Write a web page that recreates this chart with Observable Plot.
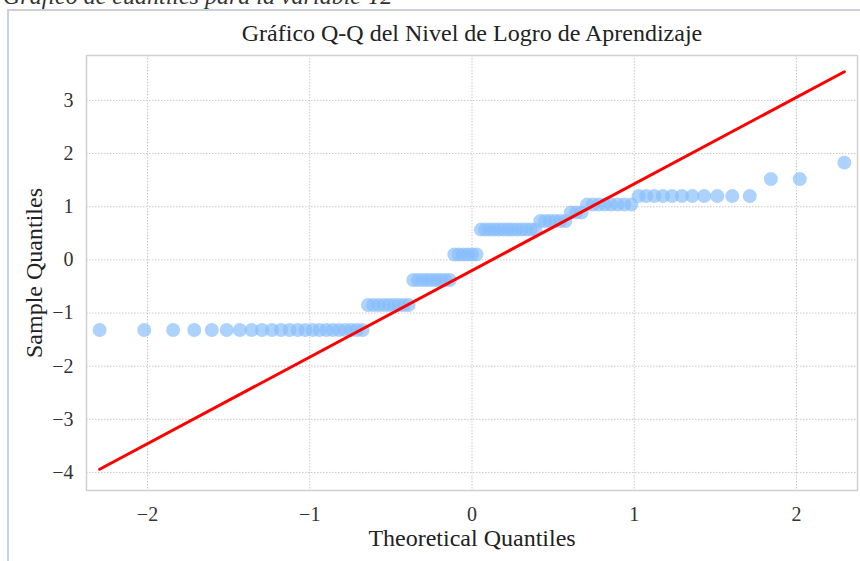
<!DOCTYPE html>
<html>
<head>
<meta charset="utf-8">
<script src="https://cdn.jsdelivr.net/npm/d3@7"></script>
<script src="https://cdn.jsdelivr.net/npm/@observablehq/plot@0.6"></script>
<style>
  html, body { margin: 0; padding: 0; background: #fff; width: 860px; height: 561px; overflow: hidden; }
  #wrap { position: relative; width: 860px; height: 561px; overflow: hidden; }
  #caption { position: absolute; left: 3px; top: -16px; font-family: "Liberation Serif", serif; font-style: italic; font-size: 24px; line-height: 24px; color: #333; white-space: nowrap; }
  #frame { position: absolute; left: 7px; top: 9px; width: 900px; height: 600px; border: 2px solid #c9d1df; box-sizing: border-box; }
  #chart { position: absolute; left: 0; top: 0; }
</style>
</head>
<body>
<div id="wrap">
  <div id="caption">Gráfico de cuantiles para la variable Y2</div>
  <div id="frame"></div>
  <div id="chart"></div>
</div>
<script>
const theoretical = [
  -2.295, -2.020, -1.842, -1.712, -1.604, -1.512, -1.431, -1.358, -1.294, -1.233,
  -1.177, -1.124, -1.074, -1.027, -0.982, -0.939, -0.897, -0.857, -0.819, -0.781,
  -0.744, -0.709, -0.675, -0.641, -0.608, -0.575, -0.543, -0.512, -0.481, -0.451,
  -0.421, -0.391, -0.362, -0.333, -0.304, -0.276, -0.248, -0.220, -0.192, -0.164,
  -0.137, -0.109, -0.082, -0.055, -0.027, 0.000,
  0.027, 0.055, 0.082, 0.109, 0.137, 0.164, 0.192, 0.220, 0.248, 0.276,
  0.304, 0.333, 0.362, 0.391, 0.421, 0.451, 0.481, 0.512, 0.543, 0.575,
  0.608, 0.641, 0.675, 0.709, 0.744, 0.781, 0.819, 0.857, 0.897, 0.939,
  0.982, 1.027, 1.074, 1.124, 1.177, 1.233, 1.294, 1.358, 1.431, 1.512,
  1.604, 1.712, 1.842, 2.020, 2.295
];
const sample = [
  -1.32, -1.32, -1.32, -1.32, -1.32, -1.32, -1.32, -1.32, -1.32, -1.32,
  -1.32, -1.32, -1.32, -1.32, -1.32, -1.32, -1.32, -1.32, -1.32, -1.32,
  -1.32, -1.32, -1.32,
  -0.85, -0.85, -0.85, -0.85, -0.85, -0.85, -0.85, -0.85, -0.85,
  -0.38, -0.38, -0.38, -0.38, -0.38, -0.38, -0.38, -0.38, -0.38,
  0.10, 0.10, 0.10, 0.10, 0.10, 0.10,
  0.57, 0.57, 0.57, 0.57, 0.57, 0.57, 0.57, 0.57, 0.57, 0.57, 0.57, 0.57, 0.57,
  0.73, 0.73, 0.73, 0.73, 0.73, 0.73,
  0.89, 0.89, 0.89,
  1.04, 1.04, 1.04, 1.04, 1.04, 1.04, 1.04, 1.04,
  1.20, 1.20, 1.20, 1.20, 1.20, 1.20, 1.20, 1.20, 1.20, 1.20, 1.20,
  1.52, 1.52,
  1.83
];
const lineX = [-2.295, 2.295];
const lineY = [-3.94, 3.54];
const xTicks = [-2, -1, 0, 1, 2];
const yTicks = [-4, -3, -2, -1, 0, 1, 2, 3];
const titleText = "Gráfico Q-Q del Nivel de Logro de Aprendizaje";
const xLabel = "Theoretical Quantiles";
const yLabel = "Sample Quantiles";

const points = theoretical.map((t, i) => ({t, s: sample[i]}));
const refLine = lineX.map((x, i) => ({x, y: lineY[i]}));
const fmt = d => d < 0 ? "\u2212" + Math.abs(d) : String(d);

const chart = Plot.plot({
  width: 860,
  height: 561,
  marginLeft: 86,
  marginRight: 3,
  marginTop: 55,
  marginBottom: 71,
  style: { fontFamily: "Liberation Serif, serif", fontSize: "20px", color: "#333", background: "transparent", overflow: "visible" },
  x: { domain: [-2.376, 2.376], label: null },
  y: { domain: [-4.34, 3.846], label: null },
  marks: [
    Plot.frame({ fill: "white" }),
    Plot.gridX(xTicks, { stroke: "#c8c8c8", strokeOpacity: 1, strokeDasharray: "1.5,1.5" }),
    Plot.gridY(yTicks, { stroke: "#c8c8c8", strokeOpacity: 1, strokeDasharray: "1.5,1.5" }),
    Plot.frame({ stroke: "#d0d0d0", strokeWidth: 1.5 }),
    Plot.dot(points, { x: "t", y: "s", r: 7, fill: "#86bcfb", fillOpacity: 0.68, stroke: null }),
    Plot.line(refLine, { x: "x", y: "y", stroke: "#ff0000", strokeWidth: 3 }),
    Plot.axisX(xTicks, { tickSize: 0, tickPadding: 16, tickFormat: fmt, label: null, fontSize: 20, fill: "#333" }),
    Plot.axisY(yTicks, { tickSize: 0, tickPadding: 13, tickFormat: fmt, label: null, fontSize: 20, fill: "#333" }),
    Plot.text([titleText], { frameAnchor: "top", lineAnchor: "bottom", textAnchor: "middle", dy: -15, fontSize: 24, fill: "#222" }),
    Plot.text([xLabel], { frameAnchor: "bottom", lineAnchor: "bottom", textAnchor: "middle", dy: 55, fontSize: 24, fill: "#222" }),
    Plot.text([yLabel], { frameAnchor: "left", lineAnchor: "bottom", textAnchor: "middle", rotate: -90, dx: -45, fontSize: 24, fill: "#222" })
  ]
});
document.getElementById("chart").appendChild(chart);
</script>
</body>
</html>
